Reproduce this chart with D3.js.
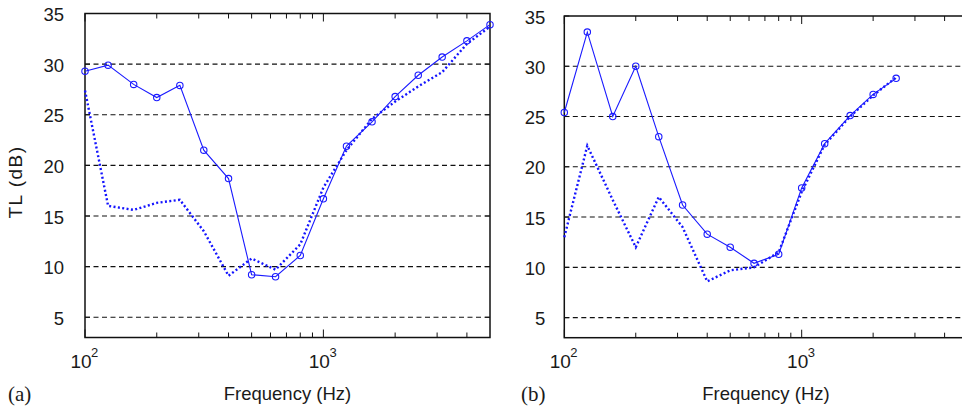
<!DOCTYPE html>
<html>
<head>
<meta charset="utf-8">
<script src="https://cdn.jsdelivr.net/npm/d3@7"></script>
<style>
  body { margin: 0; background: #fff; }
  svg { display: block; }
  text { font-family: "Liberation Sans", Arial, sans-serif; fill: #1a1a1a; }
</style>
</head>
<body>
<svg width="962" height="411"></svg>
<script>
// one-third octave band centres (Hz)
var freqA = [100,125,160,200,250,315,400,500,630,800,1000,1250,1600,2000,2500,3150,4000,5000]
// panel (a): measured (solid, circles) and predicted (dotted)
var measA = [29.3,29.9,28.0,26.7,27.9,21.5,18.7,9.2,9.0,11.1,16.7,21.9,24.3,26.8,28.9,30.7,32.3,33.9]
var predA = [27.4,16.0,15.6,16.3,16.6,13.5,9.1,10.8,9.7,12.2,17.8,21.5,24.6,26.3,27.8,29.2,32.0,33.7]

var freqB = [100,125,160,200,250,315,400,500,630,800,1000,1250,1600,2000,2500]
// panel (b)
var measB = [25.4,33.4,25.0,30.0,23.0,16.2,13.3,12.0,10.4,11.3,17.9,22.3,25.1,27.2,28.8]
var predB = [13.0,22.1,16.7,12.0,17.0,14.0,8.6,9.7,10.0,11.5,17.5,22.2,25.0,27.1,28.9]

var yTicks = [5,10,15,20,25,30,35]
var gridVals = [5,10,15,20,25,30]
var xMinor = [200,300,400,500,600,700,800,900,2000,3000,4000]
var xMajor = [100,1000]

var svg = d3.select("svg")

function drawPanel(cfg){
  var x = d3.scaleLog().domain([100,5000]).range(cfg.xr)
  var y = d3.scaleLinear().domain([3,35]).range(cfg.yr)
  var g = svg.append("g")

  // dashed grid
  g.selectAll("line.grid")
    .data(gridVals)
    .enter().append("line")
    .attr("class","grid")
    .attr("x1", x(100)).attr("x2", x(5000))
    .attr("y1", d => y(d)).attr("y2", d => y(d))
    .style("stroke","#111")
    .style("stroke-width",1.1)
    .style("stroke-dasharray","5,3.5")

  // inward ticks, bottom and top
  var ticks = xMinor.map(v => ({v:v, len:5})).concat(xMajor.map(v => ({v:v, len:8})))
  ;[y(3), y(35)].forEach(function(yy, i){
    g.selectAll(null).data(ticks).enter().append("line")
      .attr("x1", d => x(d.v)).attr("x2", d => x(d.v))
      .attr("y1", yy).attr("y2", d => i == 0 ? yy - d.len : yy + d.len)
      .style("stroke","#111").style("stroke-width",1)
  })
  ;[x(100), x(5000)].forEach(function(xx, i){
    g.selectAll(null).data(yTicks).enter().append("line")
      .attr("y1", d => y(d)).attr("y2", d => y(d))
      .attr("x1", xx).attr("x2", i == 0 ? xx + 5 : xx - 5)
      .style("stroke","#111").style("stroke-width",1)
  })

  // box
  g.append("rect")
    .attr("x", x(100)).attr("y", y(35))
    .attr("width", x(5000) - x(100)).attr("height", y(3) - y(35))
    .style("fill","none").style("stroke","#111").style("stroke-width",1.5)

  // y tick labels
  g.selectAll("text.yl").data(yTicks).enter().append("text")
    .attr("x", x(100) - cfg.ypad).attr("y", d => y(d) + 7.5)
    .attr("text-anchor","end")
    .style("font-size","18.5px")
    .text(d => d)

  // x tick labels 10^n
  xMajor.forEach(function(v){
    g.append("text")
      .attr("x", x(v) - 4).attr("y", 368)
      .attr("text-anchor","middle")
      .style("font-size","19px")
      .text("10")
    g.append("text")
      .attr("x", x(v) + 6).attr("y", 357)
      .style("font-size","13px")
      .text(Math.round(Math.log10(v)))
  })

  g.append("text")
    .attr("x", (x(100) + x(5000)) / 2).attr("y", 400)
    .attr("text-anchor","middle")
    .style("font-size","18.5px")
    .text("Frequency (Hz)")

  g.append("text")
    .attr("x", cfg.tagX).attr("y", 401)
    .style("font-family","'Liberation Serif','Times New Roman',serif")
    .style("font-size","21px")
    .text(cfg.tag)

  var line = d3.line().x(d => x(d[0])).y(d => y(d[1]))

  var pred = cfg.freq.map((f,i) => [f, cfg.pred[i]])
  var meas = cfg.freq.map((f,i) => [f, cfg.meas[i]])

  g.append("path").datum(pred)
    .attr("d", line)
    .style("fill","none").style("stroke","#1414ff")
    .style("stroke-width",2.4).style("stroke-dasharray","2,2.4")

  g.append("path").datum(meas)
    .attr("d", line)
    .style("fill","none").style("stroke","#1a1aff").style("stroke-width",1.1)

  g.selectAll("circle").data(meas).enter().append("circle")
    .attr("cx", d => x(d[0])).attr("cy", d => y(d[1]))
    .attr("r", 3.2)
    .style("fill","none").style("stroke","#1a1aff").style("stroke-width",1.1)
}

drawPanel({ xr:[85,490],      yr:[337.5,13.5], ypad:21, freq:freqA, meas:measA, pred:predA, tag:"(a)", tagX:8 })
drawPanel({ xr:[564.3,967.6], yr:[337.7,16],   ypad:19, freq:freqB, meas:measB, pred:predB, tag:"(b)", tagX:521 })

// y axis title
svg.append("text")
  .attr("transform","translate(22,182) rotate(-90)")
  .attr("text-anchor","middle")
  .style("font-size","19px")
  .style("letter-spacing","1.5px")
  .text("TL (dB)")
</script>
</body>
</html>
